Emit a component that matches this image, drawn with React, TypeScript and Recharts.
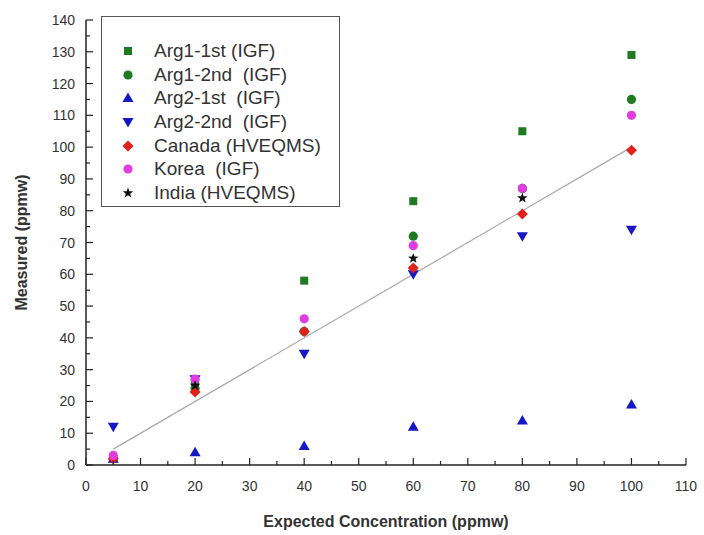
import { Label, ReferenceLine, Scatter, ScatterChart, XAxis, YAxis } from 'recharts'

const expected = [5, 20, 40, 60, 80, 100]
const arg1First = [2, 26, 58, 83, 105, 129]
const arg1Second = [2, 24, 42, 72, 87, 115]
const arg2First = [2, 4, 6, 12, 14, 19]
const arg2Second = [12, 27, 35, 60, 72, 74]
const canada = [2, 23, 42, 62, 79, 99]
const korea = [3, 27, 46, 69, 87, 110]
// India points at 5, 40 and 100 are not visible in the figure
const india = [null, 25, null, 65, 84, null]

const fitLine = [
  { x: 5, y: 5 },
  { x: 100, y: 100 },
]

const xTicks = Array.from({ length: 23 }, (_, i) => i * 5)
const yTicks = Array.from({ length: 29 }, (_, i) => i * 5)

type Kind = 'square' | 'circle' | 'up' | 'down' | 'diamond' | 'star'

const series: { name: string; values: (number | null)[]; kind: Kind; color: string }[] = [
  { name: 'Arg1-1st (IGF)', values: arg1First, kind: 'square', color: '#1f7a22' },
  { name: 'Arg1-2nd  (IGF)', values: arg1Second, kind: 'circle', color: '#1f7a22' },
  { name: 'Arg2-1st  (IGF)', values: arg2First, kind: 'up', color: '#1717c4' },
  { name: 'Arg2-2nd  (IGF)', values: arg2Second, kind: 'down', color: '#1717c4' },
  { name: 'Canada (HVEQMS)', values: canada, kind: 'diamond', color: '#e4201c' },
  { name: 'Korea  (IGF)', values: korea, kind: 'circle', color: '#e03ce0' },
  { name: 'India (HVEQMS)', values: india, kind: 'star', color: '#111111' },
]

const FONT = 'Arial, "Liberation Sans", Helvetica, sans-serif'
const AXIS = '#222'

function starPath(cx: number, cy: number, r: number) {
  const pts: string[] = []
  for (let i = 0; i < 10; i++) {
    const rad = i % 2 === 0 ? r : r * 0.42
    const a = -Math.PI / 2 + (i * Math.PI) / 5
    pts.push(`${cx + rad * Math.cos(a)},${cy + rad * Math.sin(a)}`)
  }
  return `M${pts.join('L')}Z`
}

function Marker({ kind, color, cx, cy }: { kind: Kind; color: string; cx: number; cy: number }) {
  switch (kind) {
    case 'square':
      return <rect x={cx - 4} y={cy - 4} width={8} height={8} fill={color} />
    case 'circle':
      return <circle cx={cx} cy={cy} r={4.6} fill={color} />
    case 'up':
      return <path d={`M${cx},${cy - 5.5}L${cx + 5.5},${cy + 4}L${cx - 5.5},${cy + 4}Z`} fill={color} />
    case 'down':
      return <path d={`M${cx},${cy + 5.5}L${cx + 5.5},${cy - 4}L${cx - 5.5},${cy - 4}Z`} fill={color} />
    case 'diamond':
      return <path d={`M${cx},${cy - 5.5}L${cx + 5.5},${cy}L${cx},${cy + 5.5}L${cx - 5.5},${cy}Z`} fill={color} />
    default:
      return <path d={starPath(cx, cy, 5.5)} fill={color} />
  }
}

const YTick = (props: any) => {
  const { x, y, payload } = props
  const major = payload.value % 10 === 0
  return (
    <g>
      <line x1={x} x2={x + (major ? 7 : 4)} y1={y} y2={y} stroke={AXIS} strokeWidth={1.2} />
      {major && (
        <text x={x - 11} y={y} dy={5} textAnchor="end" fontSize={14} fill="#333" fontFamily={FONT}>
          {payload.value}
        </text>
      )}
    </g>
  )
}

const XTick = (props: any) => {
  const { x, y, payload } = props
  const major = payload.value % 10 === 0
  return (
    <g>
      <line x1={x} x2={x} y1={y} y2={y - (major ? 7 : 4)} stroke={AXIS} strokeWidth={1.2} />
      {major && (
        <text x={x} y={y + 26} textAnchor="middle" fontSize={14} fill="#333" fontFamily={FONT}>
          {payload.value}
        </text>
      )}
    </g>
  )
}

export default function App() {
  return (
    <div style={{ position: 'absolute', left: 0, top: 0, width: 704, height: 535, background: '#fff' }}>
      <ScatterChart width={704} height={535} margin={{ top: 20, right: 18, bottom: 10, left: 8 }}>
        <XAxis
          type="number"
          dataKey="x"
          domain={[0, 110]}
          ticks={xTicks}
          interval={0}
          tickSize={0}
          tickMargin={0}
          tick={<XTick />}
          height={60}
          axisLine={{ stroke: AXIS, strokeWidth: 1.5 }}
          tickLine={false}
        >
          <Label
            content={({ viewBox }: any) => (
              <text
                x={viewBox.x + viewBox.width / 2}
                y={527}
                textAnchor="middle"
                fontSize={16}
                fontWeight="bold"
                fill="#333"
                fontFamily={FONT}
              >
                Expected Concentration (ppmw)
              </text>
            )}
          />
        </XAxis>
        <YAxis
          type="number"
          dataKey="y"
          domain={[0, 140]}
          ticks={yTicks}
          interval={0}
          tickSize={0}
          tickMargin={0}
          tick={<YTick />}
          width={78}
          axisLine={{ stroke: AXIS, strokeWidth: 1.5 }}
          tickLine={false}
        >
          <Label
            content={({ viewBox }: any) => {
              const cx = 22
              const cy = viewBox.y + viewBox.height / 2
              return (
                <text
                  x={cx}
                  y={cy}
                  dy={5}
                  transform={`rotate(-90 ${cx} ${cy})`}
                  textAnchor="middle"
                  fontSize={16}
                  fontWeight="bold"
                  fill="#333"
                  fontFamily={FONT}
                >
                  Measured (ppmw)
                </text>
              )
            }}
          />
        </YAxis>
        <ReferenceLine segment={fitLine} stroke="#a8a8a8" strokeWidth={1.2} ifOverflow="visible" />
        {series.map((s) => (
          <Scatter
            key={s.name}
            name={s.name}
            data={expected
              .map((x, i) => ({ x, y: s.values[i] }))
              .filter((d) => d.y !== null)}
            isAnimationActive={false}
            shape={(p: any) => <Marker kind={s.kind} color={s.color} cx={p.cx} cy={p.cy} />}
          />
        ))}
      </ScatterChart>
      <div
        style={{
          position: 'absolute',
          left: 101,
          top: 16,
          width: 239,
          height: 191,
          border: '1.5px solid #555',
          background: '#fff',
          boxSizing: 'border-box',
          paddingTop: 22,
          fontFamily: FONT,
          fontSize: 19,
          color: '#333',
        }}
      >
        {series.map((s) => (
          <div key={s.name} style={{ display: 'flex', alignItems: 'center', height: 23.7 }}>
            <svg width={14} height={14} style={{ marginLeft: 19, marginRight: 19 }}>
              <Marker kind={s.kind} color={s.color} cx={7} cy={7} />
            </svg>
            <span style={{ whiteSpace: 'pre' }}>{s.name}</span>
          </div>
        ))}
      </div>
    </div>
  )
}
